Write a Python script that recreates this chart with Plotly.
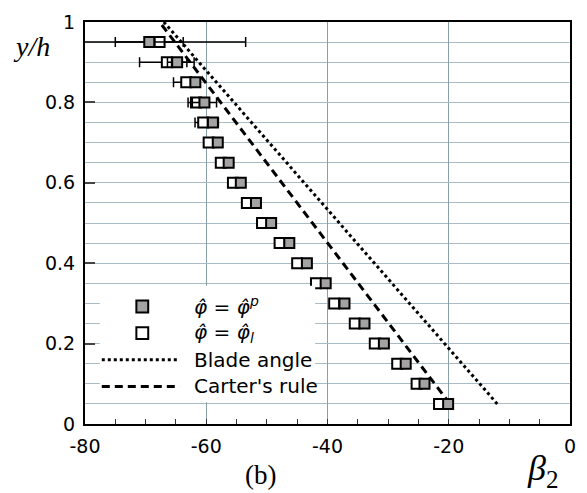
import plotly.graph_objects as go

# Spanwise stations y/h
y_h = [0.05, 0.10, 0.15, 0.20, 0.25, 0.30, 0.35, 0.40, 0.45, 0.50,
       0.55, 0.60, 0.65, 0.70, 0.75, 0.80, 0.85, 0.90, 0.95]

# Exit flow angle beta_2 from phi_hat = phi_hat_p (grey squares)
beta_p = [-20.1, -24.0, -27.1, -30.7, -33.9, -37.2, -40.3, -43.4, -46.3, -49.3,
          -51.8, -54.3, -56.3, -58.1, -58.9, -60.3, -61.8, -64.8, -69.4]
err_p = [0.3, 0.5, 0.3, 0.3, 0.3, 0.3, 0.3, 0.3, 0.3, 0.3,
         0.3, 0.3, 0.3, 0.5, 0.9, 2.0, 0.6, 1.6, 5.6]

# Exit flow angle beta_2 from phi_hat = phi_hat_l (white squares)
beta_l = [-21.6, -25.3, -28.5, -32.2, -35.5, -38.9, -41.9, -45.0, -47.9, -50.8,
          -53.3, -55.6, -57.6, -59.6, -60.5, -61.7, -63.3, -66.5, -67.7]
err_l = [0.3, 0.6, 0.3, 0.3, 0.3, 0.3, 0.3, 0.3, 0.3, 0.3,
         0.3, 0.3, 0.3, 0.8, 1.35, 1.3, 2.1, 4.5, 14.2]

# Reference lines: blade metal angle and Carter's rule deviation
blade_y = [0.05, 1.0]
blade_x = [-12.0, -67.0]
carter_y = [0.05, 1.0]
carter_x = [-19.8, -67.7]

x_ticks = [-80, -60, -40, -20, 0]
x_tick_text = ["-80", "-60", "-40", "-20", "0"]
y_ticks = [0, 0.2, 0.4, 0.6, 0.8, 1.0]
y_tick_text = ["0", "0.2", "0.4", "0.6", "0.8", "1"]

legend_labels = ["<i>φ̂</i> = <i>φ̂</i><sup><i>p</i></sup>",
                 "<i>φ̂</i> = <i>φ̂</i><sub><i>l</i></sub>",
                 "Blade angle",
                 "Carter's rule"]

W, H = 587, 493
ML, MR, MT, MB = 85, 11, 17, 69
PW, PH = W - ML - MR, H - MT - MB


def px(xp):
    return (xp - ML) / PW


def py(yp):
    return (H - MB - yp) / PH


GREY = "#a3a3a3"
GRID = "#a9bcc6"
SANS = "DejaVu Sans"
SERIF = "Liberation Serif"

fig = go.Figure()

fig.add_trace(go.Scatter(
    x=blade_x, y=blade_y, mode="lines",
    line=dict(color="black", width=3, dash="dot"),
    showlegend=False, hoverinfo="skip"))
fig.add_trace(go.Scatter(
    x=carter_x, y=carter_y, mode="lines",
    line=dict(color="black", width=3, dash="8px,5px"),
    showlegend=False, hoverinfo="skip"))

fig.add_trace(go.Scatter(
    x=beta_l, y=y_h, mode="markers",
    marker=dict(symbol="square", size=10, color="white",
                line=dict(color="black", width=2)),
    error_x=dict(type="data", array=err_l, color="black",
                 thickness=1.5, width=5),
    showlegend=False))
fig.add_trace(go.Scatter(
    x=beta_p, y=y_h, mode="markers",
    marker=dict(symbol="square", size=10, color=GREY,
                line=dict(color="black", width=2)),
    error_x=dict(type="data", array=err_p, color="black",
                 thickness=1.5, width=5),
    showlegend=False))

shapes = []
annotations = []

# Legend box drawn over the grid
shapes.append(dict(type="rect", xref="paper", yref="paper",
                   x0=px(100), x1=px(318), y0=py(402), y1=py(284),
                   fillcolor="white", line=dict(width=0), layer="above"))

# Legend symbols
sq = 6
for yc, fill in [(305, GREY), (332, "white")]:
    shapes.append(dict(type="rect", xref="paper", yref="paper",
                       x0=px(143 - sq), x1=px(143 + sq),
                       y0=py(yc + sq), y1=py(yc - sq),
                       fillcolor=fill, line=dict(color="black", width=2),
                       layer="above"))
shapes.append(dict(type="line", xref="paper", yref="paper",
                   x0=px(102), x1=px(181), y0=py(359), y1=py(359),
                   line=dict(color="black", width=3, dash="dot"), layer="above"))
shapes.append(dict(type="line", xref="paper", yref="paper",
                   x0=px(102), x1=px(181), y0=py(386), y1=py(386),
                   line=dict(color="black", width=3, dash="8px,5px"),
                   layer="above"))

for label, yc in zip(legend_labels, [305, 332, 359, 386]):
    annotations.append(dict(text=label, xref="paper", yref="paper",
                            x=px(193), y=py(yc), xanchor="left",
                            yanchor="middle", showarrow=False,
                            font=dict(family=SANS, size=20, color="black")))

annotations.append(dict(text="<i>y/h</i>", xref="paper", yref="paper",
                        x=px(31), y=py(42), xanchor="center",
                        yanchor="middle", showarrow=False,
                        font=dict(family=SERIF, size=28, color="black")))
annotations.append(dict(text="(b)", xref="paper", yref="paper",
                        x=px(263), y=py(476), xanchor="center",
                        yanchor="middle", showarrow=False,
                        font=dict(family=SERIF, size=27, color="black")))
annotations.append(dict(text="<i>β</i><sub>2</sub>", xref="paper", yref="paper",
                        x=px(549), y=py(471), xanchor="center",
                        yanchor="middle", showarrow=False,
                        font=dict(family=SERIF, size=36, color="black")))

fig.update_layout(
    width=W, height=H,
    margin=dict(l=ML, r=MR, t=MT, b=MB, pad=0),
    paper_bgcolor="white", plot_bgcolor="white",
    shapes=shapes, annotations=annotations,
    showlegend=False,
    xaxis=dict(
        range=[-80, 0], tickvals=x_ticks, ticktext=x_tick_text,
        ticks="inside", ticklen=5, tickwidth=1, tickcolor="#333333",
        showline=True, linecolor="black", linewidth=2, mirror=True,
        showgrid=True, gridcolor="#8b9fa9", gridwidth=1,
        zeroline=False,
        minor=dict(dtick=5, tick0=0, ticks="inside", ticklen=5,
                   tickcolor="#333333", showgrid=False),
        tickfont=dict(family=SANS, size=19, color="black"),
        ticklabelstandoff=4,
    ),
    yaxis=dict(
        range=[0, 1], tickvals=y_ticks, ticktext=y_tick_text,
        ticks="inside", ticklen=10, tickwidth=2, tickcolor="#444444",
        showline=True, linecolor="black", linewidth=2, mirror=True,
        showgrid=True, gridcolor=GRID, gridwidth=1,
        zeroline=False,
        minor=dict(dtick=0.05, tick0=0, ticks="", showgrid=True,
                   gridcolor=GRID, gridwidth=1),
        tickfont=dict(family=SANS, size=19, color="black"),
        ticklabelstandoff=4,
    ),
)

fig.write_html("out.html")
